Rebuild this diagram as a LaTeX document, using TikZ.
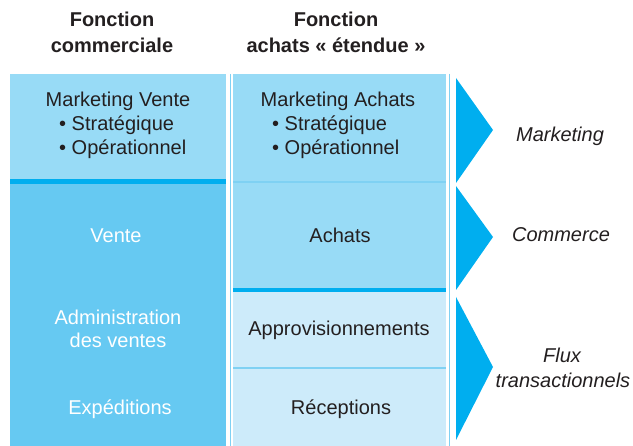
\documentclass[tikz,border=0pt]{standalone}
\usepackage{fontspec}
\setmainfont{Liberation Sans}
\definecolor{lightb}{HTML}{98DBF6}
\definecolor{midb}{HTML}{66C9F2}
\definecolor{darkb}{HTML}{00AEEF}
\definecolor{paleb}{HTML}{CDEBFA}
\definecolor{lineb}{HTML}{7FD1F3}
\definecolor{ink}{HTML}{231F20}
\tikzset{
  lbl/.style={anchor=base, inner sep=0pt, text=ink, font=\fontsize{20}{24}\selectfont},
  wlbl/.style={lbl, text=white},
  head/.style={lbl, font=\fontsize{20}{24}\selectfont\bfseries},
  side/.style={lbl, font=\fontsize{20}{24}\selectfont\itshape},
  bul/.style={lbl, anchor=base west},
}
\begin{document}
\begin{tikzpicture}[x=1pt,y=-1pt]
\useasboundingbox (0,0) rectangle (633,446);
% left column
\fill[lightb] (10,74) rectangle (226,179);
\fill[darkb] (10,179) rectangle (226,184);
\fill[midb] (10,184) rectangle (226,446);
% right column
\draw[lineb, line width=0.8pt] (230.5,74) -- (230.5,446) (449.5,74) -- (449.5,446);
\fill[lightb] (233,74) rectangle (446,288);
\fill[darkb] (233,288) rectangle (446,292);
\fill[paleb] (233,292) rectangle (446,446);
\draw[lineb, line width=1.2pt] (233,182) -- (446,182);
\draw[lineb, line width=1.5pt] (233,368) -- (446,368);
% triangles
\fill[darkb] (456,78) -- (493,130) -- (456,183) -- cycle;
\fill[darkb] (456,186) -- (493,237) -- (456,290) -- cycle;
\fill[darkb] (456,297) -- (493,367) -- (456,440) -- cycle;
% headings
\node[head] (h1a) at (112,27) {Fonction};
\node[head] (h1b) at (112,52.5) {commerciale};
\node[head] (h2a) at (336,27) {Fonction};
\node[head] (h2b) at (336,52.5) {achats « étendue »};
% left column texts
\node[lbl] (mv) at (118,107) {Marketing Vente};
\node[bul] (mv1) at (59,131) {• Stratégique};
\node[bul] (mv2) at (59,155) {• Opérationnel};
\node[wlbl] (v) at (116,243) {Vente};
\node[wlbl] (adv1) at (118,325) {Administration};
\node[wlbl] (adv2) at (118,348) {des ventes};
\node[wlbl] (exp) at (120,415) {Expéditions};
% right column texts
\node[lbl] (ma) at (338,107) {Marketing Achats};
\node[bul] (ma1) at (272,131) {• Stratégique};
\node[bul] (ma2) at (272,155) {• Opérationnel};
\node[lbl] (ach) at (340,243) {Achats};
\node[lbl] (app) at (339,336) {Approvisionnements};
\node[lbl] (rec) at (341,415) {Réceptions};
% side labels
\node[side] (s1) at (560,142) {Marketing};
\node[side] (s2) at (561,242) {Commerce};
\node[side] (s3a) at (562,363) {Flux};
\node[side] (s3b) at (563,388) {transactionnels};
\end{tikzpicture}
\end{document}
